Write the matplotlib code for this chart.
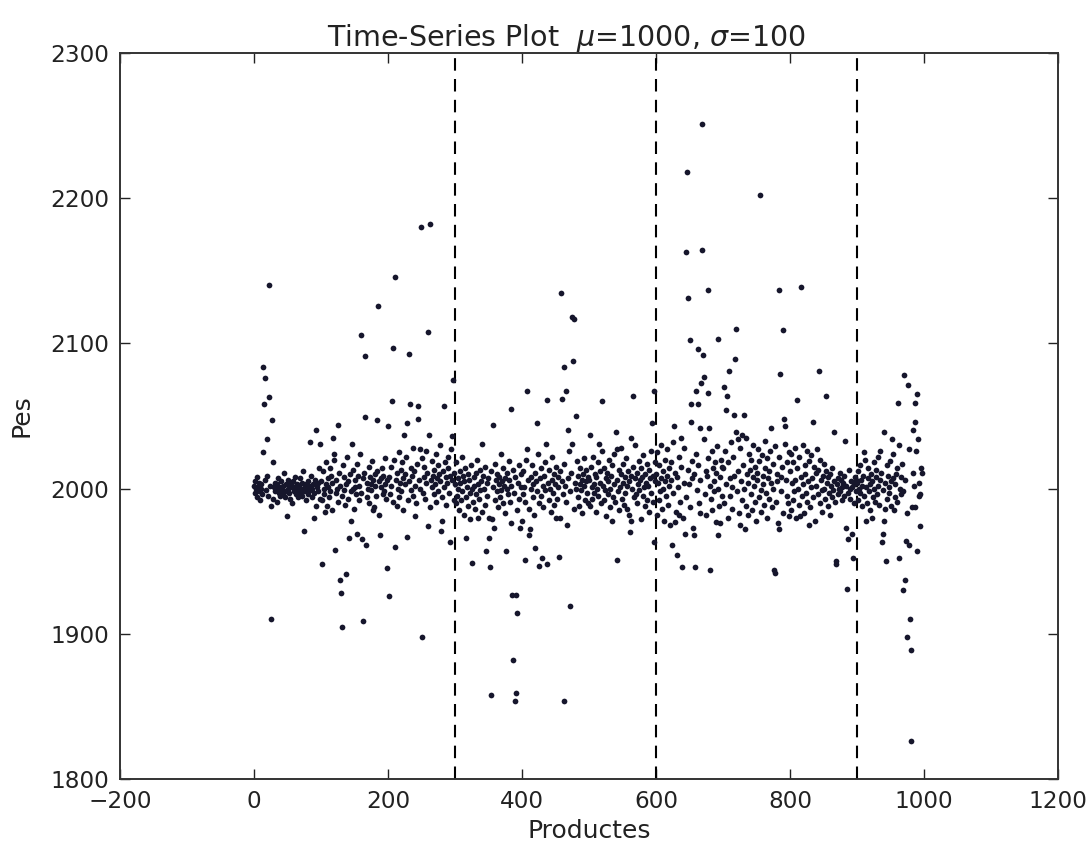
import matplotlib
matplotlib.use("Agg")
import matplotlib.pyplot as plt
import numpy as np

MEAN = 2000

# points far from the band, read one by one (product, weight)
outlier_x = [23, 14, 16, 22, 15, 27, 19, 13, 28, 26, 92, 125, 83, 98, 118, 120, 146, 185, 160, 165,
             210, 207, 232, 249, 262, 260, 206, 233, 245, 244, 283, 297, 166, 183, 200, 228, 224, 261, 247,
             75, 89, 49, 25, 142, 145, 153, 161, 167, 121, 101, 128, 137, 130, 131, 163, 198, 202, 211, 188,
             229, 259, 279, 292, 251, 240, 280, 178, 106, 295,
             458, 475, 478, 463, 476, 465, 459, 407, 438, 383, 481, 422, 357, 520, 565, 469, 341, 502, 540, 562,
             436, 408, 515, 474, 541, 594, 597,
             316, 326, 351, 346, 352, 376, 405, 420, 430, 426, 437, 455, 467, 411, 383, 358, 355, 323, 334, 397,
             400, 412, 450, 535, 562, 561, 541, 385, 391, 393, 472, 386, 354, 391, 390, 463, 597,
             669, 646, 755, 645, 668, 677, 647, 784, 816, 719, 790, 650, 692, 663, 670, 718, 709, 785, 843, 672,
             667, 659, 677, 702, 706, 853, 810, 652, 663, 704, 717, 732, 791, 793, 652, 627, 665, 679, 771, 834,
             720, 728, 722, 637, 866, 882,
             643, 657, 692, 733, 784, 624, 632, 639, 658, 681, 776, 777, 868, 869, 884, 893, 886, 885, 894, 696,
             629, 635, 815, 828, 859, 665, 724, 798,
             970, 976, 990, 961, 986, 986, 984, 991, 940, 952, 962, 978, 996, 997, 994, 987, 994, 973, 977, 989,
             963, 943, 937, 938, 971, 969, 979, 975, 980, 981, 974, 955, 923, 913, 940, 934, 910]
outlier_y = [2140, 2084, 2076, 2063, 2058, 2047, 2034, 2025, 2018, 1910, 2040, 2044, 2032, 2031, 2035, 2024, 2031, 2126, 2106, 2091,
             2146, 2097, 2093, 2180, 2182, 2108, 2060, 2058, 2057, 2048, 2057, 2075, 2049, 2047, 2043, 2045, 2037, 2037, 2027,
             1971, 1980, 1981, 1988, 1966, 1978, 1969, 1965, 1961, 1958, 1948, 1937, 1941, 1928, 1905, 1909, 1945, 1926, 1960, 1968,
             1967, 1974, 1971, 1963, 1898, 1981, 1978, 1985, 1984, 2036,
             2135, 2118, 2117, 2084, 2088, 2067, 2062, 2067, 2061, 2055, 2050, 2045, 2044, 2060, 2064, 2040, 2031, 2037, 2039, 2035,
             2031, 2027, 2031, 2031, 2027, 2045, 2067,
             1966, 1949, 1966, 1957, 1946, 1957, 1951, 1959, 1952, 1947, 1948, 1953, 1975, 1968, 1976, 1973, 1979, 1979, 1980, 1973,
             1978, 1972, 1980, 1978, 1978, 1970, 1951, 1927, 1927, 1914, 1919, 1882, 1858, 1859, 1854, 1854, 1963,
             2251, 2218, 2202, 2163, 2164, 2137, 2131, 2137, 2139, 2110, 2109, 2102, 2103, 2096, 2092, 2089, 2081, 2079, 2081, 2077,
             2073, 2067, 2066, 2070, 2064, 2064, 2061, 2058, 2058, 2054, 2051, 2051, 2048, 2043, 2046, 2043, 2042, 2042, 2042, 2046,
             2039, 2037, 2034, 2035, 2039, 2033,
             1969, 1968, 1968, 1972, 1972, 1961, 1954, 1946, 1946, 1944, 1944, 1942, 1950, 1948, 1973, 1969, 1965, 1931, 1952, 1976,
             1977, 1982, 1981, 1975, 1982, 1983, 1983, 1981,
             2078, 2071, 2065, 2059, 2059, 2046, 2040, 2034, 2039, 2034, 2030, 2027, 2014, 2011, 1996, 1987, 1974, 1964, 1961, 1957,
             1952, 1950, 1963, 1969, 1937, 1930, 1910, 1898, 1889, 1826, 1983, 1985, 1980, 1978, 1978, 2026, 2025]

# dense band around the mean: deviation from 2000 for the remaining products, block by block of 100
band_0 = [2, -3, 5, 0, -6, 8, 1, -2, 4, -8, 3, 0, -4, 6, -1, 9, -5, 2, -7, 1, 4, -2, 0, -9, 3, 7, -3, 1, -5, 5,
          0, -1, 2, -4, 11, -6, 3, -2, 0, 6, -3, 1, -7, 4, 2, -10, 5, 0, -2, 8, -4, 1, 3, -1, -6, 2, 7, -3, 0, 4,
          -5, 12, -2, 1, -8, 3, 0, 5, -4, 2, -1, 9, -6, 0, 3, -3, 6, -12, 1, 4, -2, 14, -7]
band_1 = [5, -8, 12, 0, -4, 18, 3, -12, 7, 1, -6, 14, -2, 9, -15, 4, 20, -3, 6, 0, -9, 11, 2, -5, 16, -1, 8, -11, 3, 22,
          -7, 5, 10, -2, 0, 13, -14, 6, 1, -4, 17, 9, -8, 2, 24, -3, 7, 11, -6, 4, 0, 15, -10, 8, 3, -1, 19, 6, -13, 10,
          2, -5, 12, 5, -18, 7, 1, 14, -4, 9, -2, 21, 3, -7, 6]
band_2 = [8, -4, 15, 2, -9, 20, 6, -12, 11, 0, 25, -6, 4, 13, -2, 18, 7, -15, 10, 3, 22, -8, 5, 14, -1, 9, 28, -5, 12, 2,
          -10, 17, 6, 0, 21, -3, 8, 15, -7, 4, 26, 11, -13, 6, 1, 19, 9, -4, 13, 3, 24, -9, 7, 16, -2, 10, 30, 5, -6, 12,
          1, 18, 8, -11, 4, 22, 14, -3, 9, 27, 6, -8, 11]
band_3 = [3, -10, 18, -5, 7, 0, -15, 12, 4, -8, 22, -2, 9, -18, 5, 14, -6, 1, 10, -12, 6, -3, 16, 0, -9, 8, 2, -14, 11, -4,
          20, 3, -7, 13, -1, 5, -16, 9, 0, -11, 15, 4, -5, 7, -20, 12, 1, -8, 17, 6, -2, 10, -13, 3, 8, -6, 24, -1, 5, -10,
          14, 2, -17, 7, 0, 11, -4, 19, 6, -9, 2, 13, -3, 8, -15, 4, 16, -7, 1, 10]
band_4 = [-4, 12, 1, -9, 20, 6, -14, 8, 0, 16, -6, 3, -18, 11, 5, -2, 24, -10, 7, 14, -5, 2, -13, 9, 18, -1, 4, -8, 13, 0,
          -16, 6, 22, -3, 10, -11, 3, 15, -7, 1, 8, -20, 12, 5, -4, 17, 2, -9, 7, 26, -2, 11, -14, 4, 0, 19, -6, 9, -12, 3,
          14, -1, 6, -17, 10, 2, 21, -8, 5, 13, -3, -10, 8]
band_5 = [6, -12, 15, 1, -7, 22, 3, -3, 10, -16, 8, 0, 18, -5, 4, 12, -10, 26, 2, -8, 14, -1, 7, -19, 11, 5, -4, 20, 0, -13,
          9, 16, -6, 3, 24, -9, 6, -2, 13, -15, 1, 10, 28, -7, 4, 17, -11, 8, -3, 21, 2, -14, 12, 5, -18, 9, 0, 15, -6, 7,
          30, -4, 11, -10, 3, 19, -1, 6, -21, 14, 8, -5, 23, 1, -12, 10, 4, 17, -8, 2, 13, -16, 7, 26, -3, 9, -9, 5, 18]
band_6 = [10, -18, 25, 4, -8, 16, -2, 30, 7, -14, 12, 0, -22, 20, 5, -5, 27, 9, -11, 14, 2, -25, 18, 6, -3, 32, 11, -16, 8, 1,
          22, -9, 15, -20, 4, 28, -6, 13, 3, -13, 19, 7, -27, 10, 24, -1, 16, -10, 6, 34, -4, 12, -18, 9, 21, 2, -7, 26, -15, 14,
          5, -2, 18, -23, 11, 29, 0, -12, 8, 20, -5, 15, 3]
band_7 = [14, -10, 26, 3, -20, 18, 7, -5, 32, 1, -14, 22, 9, -2, 12, -25, 28, 5, -8, 16, 0, 35, -12, 10, 4, -18, 24, 13, -4, 20,
          -15, 8, 30, 2, -9, 15, -22, 11, 6, 27, -6, 19, -1, -16, 23, 9, 3, -11, 33, 14, -3, 21, -20, 7, 12, -7, 26, 4, -13, 17,
          0, 29, -9, 10, 5, -24, 22, 8, -2, 15, -17, 31, 6, -5, 18, -10, 25]
band_8 = [12, -15, 24, 4, -8, 18, -2, 28, 6, -20, 14, 0, -11, 22, 8, -5, 30, 3, -17, 16, 10, -3, 26, -9, 5, 19, -13, 1, 23, 7,
          -6, 15, -22, 11, 2, 27, -4, 13, -10, 20, 6, -1, -16, 9, 17, 0, -7, 12, 4, -12, 8, -3, 10, 2, -6, 14, -1, 5, -9, 3,
          7, -4, 0, 11, -2, 6, -8, 1, 4, -5, 9, 2, -3, 13, 0, -7, 5, 1, -10, 3, 8, -2, 6]
band_9 = [4, -8, 12, 0, -3, 16, 6, -12, 2, 9, -5, 20, 1, -10, 7, 14, -2, 3, -15, 10, 5, -6, 18, 0, -9, 8, 13, -4, 2, 22,
          -11, 6, 11, -1, -14, 4, 16, -7, 9, 1, -3, 19, 5, -12, 7, 24, -6, 3, 10, -9, 14, 0, -4, 8, 17, -2, 6, -13, 11, 2,
          26, -5, 4]
bands = [band_0, band_1, band_2, band_3, band_4, band_5, band_6, band_7, band_8, band_9]

limits = [300, 600, 900]


def band_points():
    taken = set(outlier_x)
    xs, ys = [], []
    for b, devs in enumerate(bands):
        free = [i for i in range(b * 100, b * 100 + 100) if i not in taken]
        for i, d in zip(free, devs):
            xs.append(i)
            ys.append(MEAN + d)
    return xs, ys


def main():
    plt.rcParams["font.family"] = "DejaVu Sans"
    fig = plt.figure(figsize=(10.91, 8.46), dpi=100)
    ax = fig.add_axes([0.110, 0.0792, 0.8598, 0.8582])

    bx, by = band_points()
    x = np.array(bx + outlier_x)
    y = np.array(by + outlier_y)
    ax.scatter(x, y, s=17, color="#16162c", linewidths=0, zorder=3)

    for v in limits:
        ax.axvline(v, color="k", linestyle="--", linewidth=1.5, dashes=(6, 4), zorder=2)

    ax.set_xlim(-200, 1200)
    ax.set_ylim(1800, 2300)
    ax.set_xticks(range(-200, 1201, 200))
    ax.set_yticks(range(1800, 2301, 100))
    ax.tick_params(direction="in", top=True, right=True, length=7, width=1, labelsize=16.7, pad=8, colors="#222222")
    for s in ax.spines.values():
        s.set_linewidth(1.4)
        s.set_color("#333333")

    ax.set_title(r"Time-Series Plot  $\mu$=1000, $\sigma$=100", fontsize=20.5, color="#222222", pad=5, x=0.476)
    ax.set_xlabel("Productes", fontsize=18, color="#222222", labelpad=4)
    ax.set_ylabel("Pes", fontsize=18, color="#222222", labelpad=12)

    fig.savefig("out.png", dpi=100)


if __name__ == "__main__":
    main()
